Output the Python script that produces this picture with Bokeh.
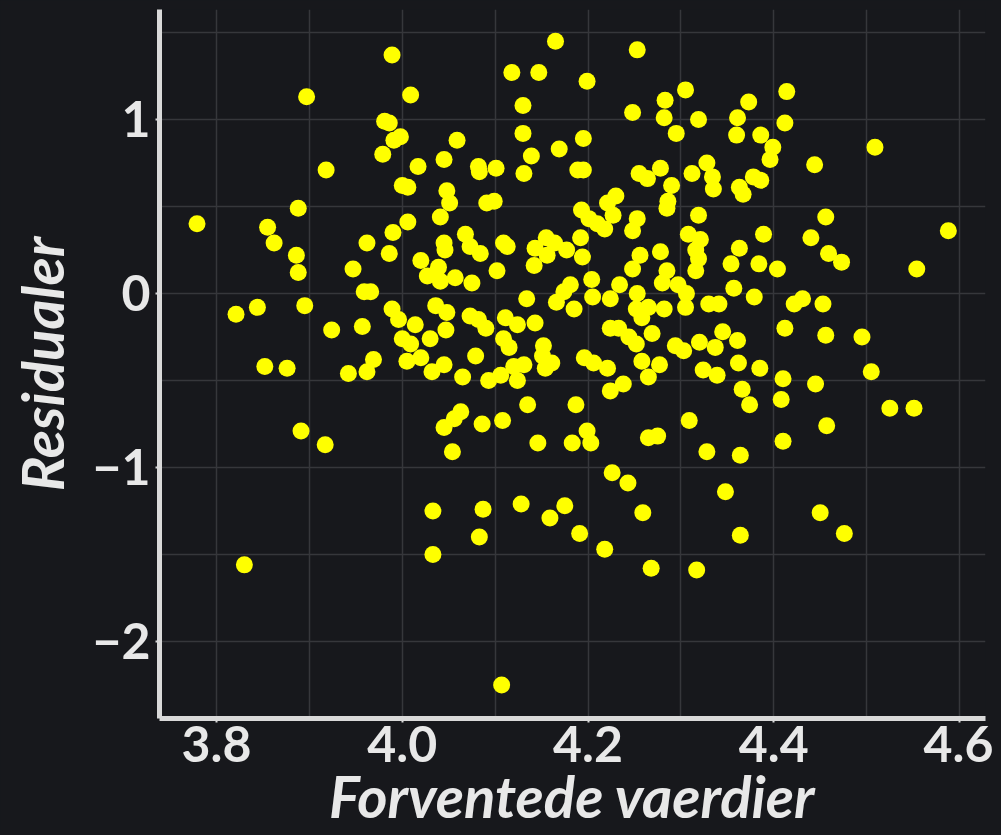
from bokeh.plotting import figure
from bokeh.models import Range1d, FixedTicker, ColumnDataSource, PrintfTickFormatter
from bokeh.embed import file_html
from bokeh.resources import INLINE

# Fitted values (x) and residuals (y)
fitted = [3.897, 3.918, 3.888, 3.779, 3.855, 3.862, 3.886, 3.888, 3.962, 3.947,
          3.959, 3.966, 3.821, 3.844, 3.895, 3.924, 3.957, 3.852, 3.876, 3.942,
          3.962, 3.969, 3.891, 3.917, 3.830, 3.989, 4.009, 3.981, 3.986, 3.991,
          3.998, 3.979, 4.017, 4.045, 4.059, 4.082, 4.083, 4.101, 4.000, 4.006,
          4.048, 4.051, 4.041, 4.091, 4.099, 4.006, 3.990, 3.986, 4.068, 4.073,
          4.084, 4.045, 4.046, 4.020, 4.027, 4.039, 4.041, 4.057, 4.075, 4.102,
          4.109, 4.113, 4.118, 4.147, 4.165, 4.130, 4.130, 4.139, 4.131, 4.169,
          4.143, 4.155, 4.164, 4.177, 4.156, 4.142, 4.192, 4.194, 4.134, 4.181,
          4.174, 4.166, 4.185, 4.199, 4.195, 4.189, 4.195, 4.193, 4.201, 4.210,
          4.218, 4.227, 4.230, 4.221, 4.253, 4.248, 4.283, 4.282, 4.305, 4.319,
          4.295, 4.373, 4.361, 4.360, 4.386, 4.414, 4.412, 4.399, 4.396, 4.255,
          4.264, 4.278, 4.290, 4.286, 4.285, 4.312, 4.328, 4.334, 4.335, 4.363,
          4.367, 4.378, 4.386, 4.253, 4.248, 4.319, 4.308, 4.321, 4.316, 4.319,
          4.316, 4.389, 4.363, 4.354, 4.384, 4.404, 4.256, 4.248, 4.278, 4.285,
          4.280, 4.297, 4.306, 4.282, 4.305, 4.204, 4.234, 4.253, 4.224, 4.205,
          4.357, 4.379, 4.330, 4.341, 4.422, 4.431, 4.252, 4.258, 4.265, 4.509,
          4.444, 4.456, 4.588, 4.440, 4.459, 4.473, 4.554, 4.453, 4.456, 4.495,
          4.505, 4.445, 4.525, 4.551, 4.457, 4.450, 4.476, 4.224, 4.233, 4.244,
          4.252, 4.269, 4.196, 4.206, 4.221, 4.258, 4.277, 4.265, 4.238, 4.224,
          4.294, 4.303, 4.320, 4.337, 4.345, 4.361, 4.362, 4.385, 4.324, 4.339,
          4.366, 4.374, 4.412, 4.410, 4.408, 4.410, 4.187, 4.199, 4.203, 4.183,
          4.309, 4.265, 4.275, 4.328, 4.364, 4.226, 4.243, 4.348, 4.259, 4.364,
          4.191, 4.218, 4.268, 4.317, 3.989, 3.996, 4.014, 4.000, 4.009, 4.005,
          4.020, 4.032, 4.045, 4.030, 4.036, 4.048, 4.047, 4.073, 4.082, 4.090,
          4.079, 4.065, 4.111, 4.124, 4.109, 4.115, 4.093, 4.106, 4.120, 4.131,
          4.124, 4.143, 4.152, 4.151, 4.161, 4.154, 4.135, 4.063, 4.056, 4.045,
          4.086, 4.108, 4.146, 4.054, 4.033, 4.087, 4.128, 4.159, 4.175, 4.083,
          4.033, 4.107]

residuals = [1.13, 0.71, 0.49, 0.40, 0.38, 0.29, 0.22, 0.12, 0.29, 0.14,
             0.01, 0.01, -0.12, -0.08, -0.07, -0.21, -0.19, -0.42, -0.43, -0.46,
             -0.45, -0.38, -0.79, -0.87, -1.56, 1.37, 1.14, 0.99, 0.98, 0.88,
             0.90, 0.80, 0.73, 0.77, 0.88, 0.73, 0.70, 0.72, 0.62, 0.61,
             0.59, 0.52, 0.44, 0.52, 0.53, 0.41, 0.35, 0.23, 0.34, 0.27,
             0.23, 0.29, 0.25, 0.19, 0.10, 0.15, 0.07, 0.09, 0.06, 0.13,
             0.29, 0.27, 1.27, 1.27, 1.45, 1.08, 0.92, 0.79, 0.69, 0.83,
             0.26, 0.32, 0.29, 0.25, 0.22, 0.16, 0.32, 0.21, -0.03, 0.05,
             0.01, -0.05, -0.09, 1.22, 0.89, 0.71, 0.71, 0.48, 0.43, 0.40,
             0.37, 0.45, 0.56, 0.52, 1.40, 1.04, 1.11, 1.01, 1.17, 1.00,
             0.92, 1.10, 1.01, 0.91, 0.91, 1.16, 0.98, 0.84, 0.77, 0.69,
             0.66, 0.72, 0.62, 0.53, 0.49, 0.69, 0.75, 0.67, 0.60, 0.61,
             0.57, 0.67, 0.65, 0.43, 0.36, 0.45, 0.34, 0.31, 0.25, 0.20,
             0.13, 0.34, 0.26, 0.17, 0.17, 0.14, 0.22, 0.14, 0.24, 0.13,
             0.06, 0.05, 0.00, -0.09, -0.08, 0.08, 0.05, 0.00, -0.03, -0.02,
             0.03, -0.02, -0.06, -0.06, -0.06, -0.03, -0.09, -0.14, -0.08, 0.84,
             0.74, 0.44, 0.36, 0.32, 0.23, 0.18, 0.14, -0.06, -0.24, -0.25,
             -0.45, -0.52, -0.66, -0.66, -0.76, -1.26, -1.38, -0.20, -0.20, -0.25,
             -0.29, -0.23, -0.37, -0.40, -0.43, -0.39, -0.41, -0.48, -0.52, -0.56,
             -0.30, -0.33, -0.28, -0.31, -0.22, -0.27, -0.40, -0.43, -0.44, -0.47,
             -0.55, -0.64, -0.20, -0.49, -0.61, -0.85, -0.64, -0.79, -0.86, -0.86,
             -0.73, -0.83, -0.82, -0.91, -0.93, -1.03, -1.09, -1.14, -1.26, -1.39,
             -1.38, -1.47, -1.58, -1.59, -0.09, -0.15, -0.18, -0.26, -0.29, -0.39,
             -0.37, -0.45, -0.41, -0.26, -0.07, -0.11, -0.21, -0.13, -0.15, -0.20,
             -0.36, -0.48, -0.14, -0.18, -0.26, -0.31, -0.50, -0.47, -0.42, -0.41,
             -0.50, -0.17, -0.30, -0.36, -0.40, -0.43, -0.64, -0.68, -0.72, -0.77,
             -0.75, -0.73, -0.86, -0.91, -1.25, -1.24, -1.21, -1.29, -1.22, -1.40,
             -1.50, -2.25]

x_ticks = [3.8, 4.0, 4.2, 4.4, 4.6]
x_minor = [3.9, 4.1, 4.3, 4.5]
y_ticks = [-2, -1, 0, 1]
y_minor = [-1.5, -0.5, 0.5, 1.5]

x_title = "Forventede vaerdier"
y_title = "Residualer"

BG = "#17181c"
GRID = "#36373b"
AXIS = "#d9d9d9"
TEXT = "#e8e8e8"
POINT = "#ffff00"
FONT = "Lato"

p = figure(width=993, height=833,
           x_range=Range1d(3.7386, 4.628), y_range=Range1d(-2.443, 1.632),
           output_backend="svg", toolbar_location=None,
           min_border_left=159, min_border_right=8,
           min_border_top=9, min_border_bottom=115,
           background_fill_color=BG, border_fill_color=BG,
           outline_line_color=None)

p.xaxis.ticker = FixedTicker(ticks=x_ticks, minor_ticks=x_minor)
p.yaxis.ticker = FixedTicker(ticks=y_ticks, minor_ticks=y_minor)
p.xaxis.formatter = PrintfTickFormatter(format="%.1f")

for g in (p.xgrid, p.ygrid):
    g.grid_line_color = GRID
    g.grid_line_width = 1.5
    g.minor_grid_line_color = GRID
    g.minor_grid_line_width = 1.5

for ax in (p.xaxis, p.yaxis):
    ax.axis_line_color = AXIS
    ax.axis_line_width = 5
    ax.major_tick_line_color = AXIS
    ax.major_tick_line_width = 2
    ax.major_tick_in = 0
    ax.major_tick_out = 4
    ax.minor_tick_line_color = None
    ax.major_label_text_font = FONT
    ax.major_label_text_font_style = "bold"
    ax.major_label_text_font_size = "50px"
    ax.major_label_text_color = TEXT
    ax.axis_label_text_font = FONT
    ax.axis_label_text_font_style = "bold italic"
    ax.axis_label_text_font_size = "58px"
    ax.axis_label_text_color = TEXT

p.xaxis.axis_label = x_title
p.yaxis.axis_label = y_title
p.xaxis.major_label_standoff = 3
p.xaxis.axis_label_standoff = -4
p.yaxis.major_label_standoff = 5
p.yaxis.axis_label_standoff = 13

src = ColumnDataSource(dict(x=fitted, y=residuals))
p.scatter(x="x", y="y", source=src, size=17, fill_color=POINT,
          line_color=None)

html = file_html(p, INLINE).replace(
    "<head>", "<head><style>html,body{background:#17181c;}</style>", 1)
open("out.html", "w").write(html)
